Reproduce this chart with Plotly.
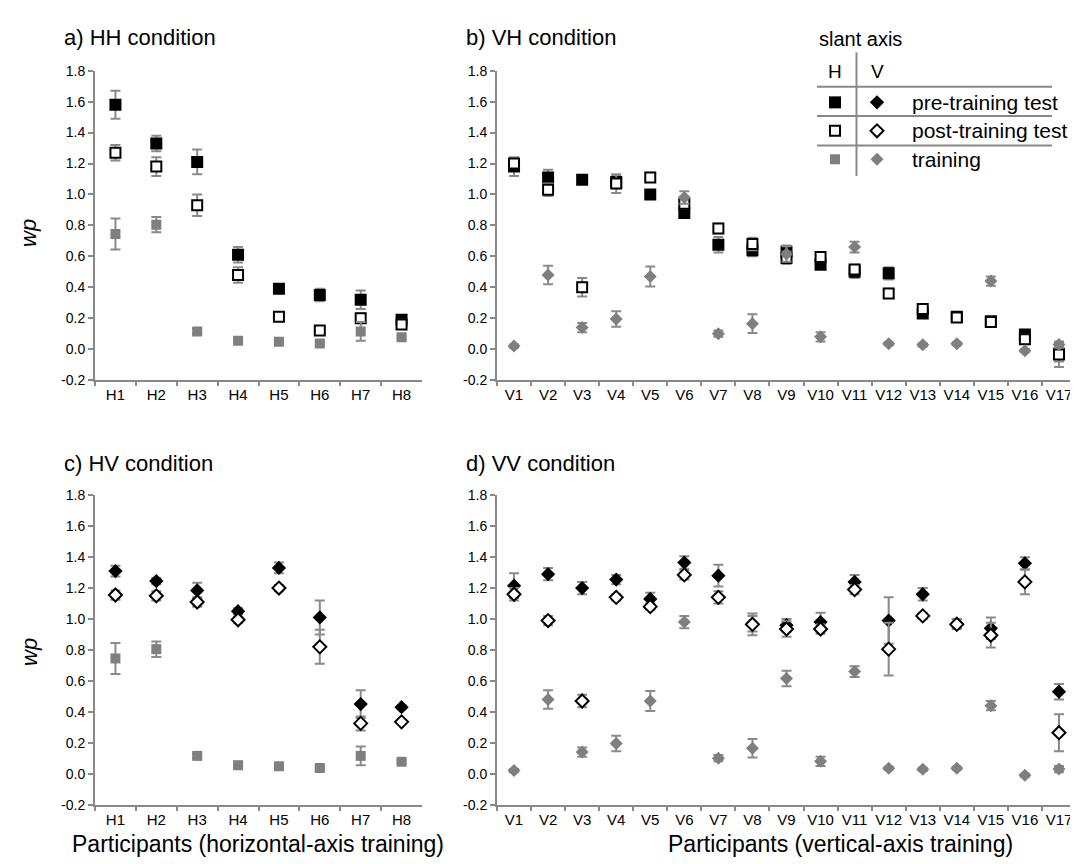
import plotly.graph_objects as go

# ---------------- data ----------------
H_cats = ["H1", "H2", "H3", "H4", "H5", "H6", "H7", "H8"]
V_cats = ["V1", "V2", "V3", "V4", "V5", "V6", "V7", "V8", "V9", "V10",
          "V11", "V12", "V13", "V14", "V15", "V16", "V17"]

# training (horizontal-axis training participants), shared by HH and HV
H_train = [0.745, 0.805, 0.115, 0.055, 0.048, 0.037, 0.115, 0.077]
H_train_err = [0.10, 0.05, 0.015, 0.01, 0.01, 0.01, 0.06, 0.01]

# a) HH condition
HH_pre = [1.58, 1.33, 1.21, 0.61, 0.39, 0.35, 0.32, 0.19]
HH_pre_err = [0.09, 0.05, 0.08, 0.05, 0.02, 0.04, 0.06, 0.02]
HH_post = [1.27, 1.18, 0.93, 0.48, 0.21, 0.12, 0.20, 0.16]
HH_post_err = [0.05, 0.06, 0.07, 0.05, 0.02, 0.02, 0.03, 0.03]

# c) HV condition
HV_pre = [1.31, 1.245, 1.185, 1.05, 1.33, 1.01, 0.45, 0.43]
HV_pre_err = [0.035, 0.02, 0.05, 0.02, 0.035, 0.11, 0.09, 0.01]
HV_post = [1.155, 1.15, 1.11, 0.995, 1.20, 0.82, 0.325, 0.335]
HV_post_err = [0.03, 0.03, 0.03, 0.02, 0.02, 0.11, 0.045, 0.01]

# training (vertical-axis training participants), shared by VH and VV
V_train = [0.02, 0.48, 0.14, 0.195, 0.47, 0.98, 0.10, 0.165, 0.615, 0.08,
           0.66, 0.035, 0.028, 0.035, 0.44, -0.01, 0.03]
V_train_err = [0.01, 0.06, 0.03, 0.05, 0.065, 0.04, 0.02, 0.06, 0.05, 0.03,
               0.035, 0.01, 0.01, 0.01, 0.03, 0.01, 0.02]

# b) VH condition
VH_pre = [1.18, 1.11, 1.095, 1.08, 1.00, 0.88, 0.675, 0.64, 0.63, 0.545,
          0.50, 0.49, 0.23, 0.21, 0.18, 0.095, -0.03]
VH_pre_err = [0.06, 0.05, 0.02, 0.04, 0.02, 0.03, 0.05, 0.04, 0.04, 0.02,
              0.04, 0.04, 0.02, 0.02, 0.02, 0.02, 0.05]
VH_post = [1.20, 1.03, 0.40, 1.07, 1.11, 0.94, 0.78, 0.68, 0.59, 0.595,
           0.515, 0.36, 0.26, 0.205, 0.175, 0.065, -0.035]
VH_post_err = [0.02, 0.04, 0.06, 0.06, 0.03, 0.03, 0.03, 0.04, 0.04, 0.03,
               0.03, 0.03, 0.02, 0.02, 0.02, 0.03, 0.08]

# d) VV condition
VV_pre = [1.215, 1.29, 1.20, 1.255, 1.13, 1.365, 1.28, 0.97, 0.96, 0.98,
          1.24, 0.99, 1.16, 0.97, 0.94, 1.36, 0.53]
VV_pre_err = [0.08, 0.04, 0.04, 0.03, 0.04, 0.04, 0.07, 0.05, 0.04, 0.06,
              0.045, 0.15, 0.04, 0.03, 0.07, 0.04, 0.05]
VV_post = [1.16, 0.99, 0.47, 1.14, 1.08, 1.285, 1.14, 0.965, 0.935, 0.935,
           1.19, 0.805, 1.02, 0.965, 0.895, 1.24, 0.265]
VV_post_err = [0.04, 0.03, 0.04, 0.02, 0.02, 0.03, 0.04, 0.07, 0.05, 0.03,
               0.03, 0.17, 0.02, 0.03, 0.08, 0.08, 0.12]

y_tickvals = [-0.2, 0.0, 0.2, 0.4, 0.6, 0.8, 1.0, 1.2, 1.4, 1.6, 1.8]
y_ticktext = ["-0.2", "0.0", "0.2", "0.4", "0.6", "0.8", "1.0", "1.2", "1.4", "1.6", "1.8"]

# ---------------- styling ----------------
W, H = 1078, 864
FONT = "Liberation Sans, Arial, Helvetica, sans-serif"
GRAY = "#7f7f7f"
ERR = "#8a8a8a"
AXC = "#888888"


def px(xp):
    return xp / W


def py(yp):
    return 1 - yp / H


fig = go.Figure()

sq_pre = dict(symbol="square", size=12, color="black", line=dict(width=0))
sq_post = dict(symbol="square", size=10, color="white", line=dict(width=2, color="black"))
sq_train = dict(symbol="square", size=10, color=GRAY, line=dict(width=0))
di_pre = dict(symbol="diamond", size=11, color="black", line=dict(width=0))
di_post = dict(symbol="diamond", size=10, color="white", line=dict(width=2, color="black"))
di_train = dict(symbol="diamond", size=10, color=GRAY, line=dict(width=0))


def add_series(cats, vals, errs, marker, ax):
    fig.add_trace(go.Scatter(
        x=cats, y=vals, mode="markers", marker=marker,
        error_y=dict(type="data", array=errs, visible=True, color=ERR,
                     thickness=2, width=5),
        xaxis="x" + ax, yaxis="y" + ax, showlegend=False, hoverinfo="x+y"))


# a) HH
add_series(H_cats, HH_pre, HH_pre_err, sq_pre, "")
add_series(H_cats, HH_post, HH_post_err, sq_post, "")
add_series(H_cats, H_train, H_train_err, sq_train, "")
# b) VH
add_series(V_cats, VH_pre, VH_pre_err, sq_pre, "2")
add_series(V_cats, VH_post, VH_post_err, sq_post, "2")
add_series(V_cats, V_train, V_train_err, di_train, "2")
# c) HV
add_series(H_cats, HV_pre, HV_pre_err, di_pre, "3")
add_series(H_cats, HV_post, HV_post_err, di_post, "3")
add_series(H_cats, H_train, H_train_err, sq_train, "3")
# d) VV
add_series(V_cats, VV_pre, VV_pre_err, di_pre, "4")
add_series(V_cats, VV_post, VV_post_err, di_post, "4")
add_series(V_cats, V_train, V_train_err, di_train, "4")

# legend table markers (pixel overlay axis)
leg_rows_y = [88, 117, 146]
for yy, ms, md in zip(leg_rows_y, [sq_pre, sq_post, sq_train], [di_pre, di_post, di_train]):
    fig.add_trace(go.Scatter(x=[827], y=[yy], mode="markers", marker=ms,
                             xaxis="x5", yaxis="y5", showlegend=False, hoverinfo="skip"))
    fig.add_trace(go.Scatter(x=[869], y=[yy], mode="markers", marker=md,
                             xaxis="x5", yaxis="y5", showlegend=False, hoverinfo="skip"))

# ---------------- axes ----------------
x_left = [px(87), px(414)]
x_right = [px(489), px(1068)]
y_top = [py(371), py(55.7)]
y_bot = [py(803.5), py(488.3)]


def xax(domain, anchor, n):
    return dict(domain=domain, anchor=anchor, type="category",
                range=[-0.5, n - 0.5], showline=True, linecolor=AXC, linewidth=2,
                ticks="outside", tickson="boundaries", ticklen=4, tickwidth=2,
                tickcolor=AXC, showgrid=False, zeroline=False, tickangle=0,
                tickfont=dict(family=FONT, size=15, color="black"))


def yax(domain, anchor):
    return dict(domain=domain, anchor=anchor, range=[-0.2, 1.8],
                tickvals=y_tickvals, ticktext=y_ticktext,
                showline=True, linecolor=AXC, linewidth=2,
                ticks="outside", ticklen=5, tickwidth=2, tickcolor=AXC,
                showgrid=False, zeroline=False,
                tickfont=dict(family=FONT, size=14, color="black"))


fig.update_layout(
    xaxis=xax(x_left, "y", 8), yaxis=yax(y_top, "x"),
    xaxis2=xax(x_right, "y2", 17), yaxis2=yax(y_top, "x2"),
    xaxis3=xax(x_left, "y3", 8), yaxis3=yax(y_bot, "x3"),
    xaxis4=xax(x_right, "y4", 17), yaxis4=yax(y_bot, "x4"),
    xaxis5=dict(domain=[0, 1], anchor="y5", range=[0, W], visible=False, fixedrange=True),
    yaxis5=dict(domain=[0, 1], anchor="x5", range=[H, 0], visible=False, fixedrange=True),
)

# ---------------- text ----------------
ann = []


def text(t, x, y, size, xanchor="center", angle=0):
    ann.append(dict(text=t, x=px(x), y=py(y), xref="paper", yref="paper",
                    xanchor=xanchor, yanchor="middle", showarrow=False, textangle=angle,
                    font=dict(family=FONT, size=size, color="black")))


text("a) HH condition", 54, 22, 22, "left")
text("b) VH condition", 456, 22, 22, "left")
text("c) HV condition", 54, 456, 22, "left")
text("d) VV condition", 456, 456, 22, "left")
text("<i>wp</i>", 21, 221, 22, angle=-90)
text("<i>wp</i>", 21, 648, 22, angle=-90)
text("Participants (horizontal-axis training)", 250, 844, 23)
text("Participants (vertical-axis training)", 832, 844, 23)
# legend table text
text("slant axis", 809, 23, 20, "left")
text("H", 827, 57, 19)
text("V", 869, 57, 19)
text("pre-training test", 902, 88, 21, "left")
text("post-training test", 902, 117, 21, "left")
text("training", 902, 146, 21, "left")

shapes = []
for yy in [72, 102, 132]:
    shapes.append(dict(type="line", xref="x5", yref="y5", x0=809, x1=1044, y0=yy, y1=yy,
                       line=dict(color=AXC, width=2)))
shapes.append(dict(type="line", xref="x5", yref="y5", x0=848.5, x1=848.5, y0=37, y1=163,
                   line=dict(color=AXC, width=2)))

fig.update_layout(
    width=W, height=H, autosize=False,
    margin=dict(l=0, r=0, t=0, b=0),
    paper_bgcolor="white", plot_bgcolor="rgba(0,0,0,0)",
    annotations=ann, shapes=shapes, showlegend=False,
    font=dict(family=FONT, color="black"),
)

fig.write_html("out.html")
